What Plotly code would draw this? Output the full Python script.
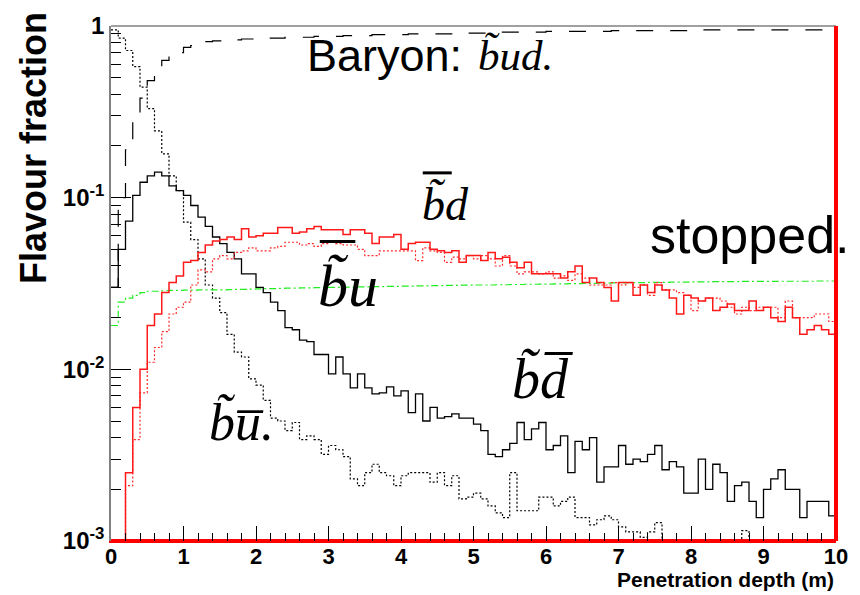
import numpy as np
import plotly.graph_objects as go

# ---------------------------------------------------------------------------
# Flavour fractions of R-hadrons vs penetration depth, 100 bins over 0-10 m
# ---------------------------------------------------------------------------
n_bins = 100
depth_edges = np.linspace(0.0, 10.0, n_bins + 1)

# baryon  (b~ u d)
frac_baryon = [
    0.03, 0.10, 0.19, 0.295, 0.38, 0.48, 0.575, 0.63, 0.67, 0.70,
    0.75, 0.77, 0.79, 0.81, 0.82, 0.82, 0.83, 0.83, 0.84, 0.84,
    0.84, 0.85, 0.85, 0.85, 0.86, 0.86, 0.86, 0.86, 0.87, 0.87,
    0.87, 0.87, 0.88, 0.88, 0.88, 0.88, 0.89, 0.89, 0.89, 0.89,
    0.89, 0.90, 0.90, 0.90, 0.90, 0.90, 0.90, 0.91, 0.91, 0.91,
    0.91, 0.91, 0.91, 0.92, 0.92, 0.92, 0.92, 0.92, 0.92, 0.92,
    0.93, 0.93, 0.93, 0.93, 0.93, 0.93, 0.93, 0.93, 0.93, 0.94,
    0.94, 0.94, 0.94, 0.94, 0.94, 0.94, 0.94, 0.94, 0.94, 0.94,
    0.95, 0.95, 0.95, 0.95, 0.95, 0.95, 0.95, 0.95, 0.95, 0.95,
    0.95, 0.95, 0.95, 0.95, 0.95, 0.95, 0.95, 0.95, 0.95, 0.95,
]

# meson  b~ u-bar  (dotted black)
frac_b_ubar = [
    0.95, 0.85, 0.72, 0.58, 0.44, 0.33, 0.245, 0.18, 0.134, 0.11,
    0.072, 0.057, 0.044, 0.031, 0.026, 0.0214, 0.016, 0.0126, 0.0118, 0.0088,
    0.0081, 0.0066, 0.0052, 0.0050, 0.0044, 0.0049, 0.0039, 0.0041, 0.0039, 0.0032,
    0.0036, 0.0034, 0.0031, 0.0023, 0.0021, 0.0025, 0.0028, 0.0025, 0.0024, 0.0021,
    0.0024, 0.0025, 0.0025, 0.0025, 0.0022, 0.0025, 0.0021, 0.0024, 0.00176, 0.0018,
    0.0019, 0.00176, 0.0016, 0.00146, 0.00137, 0.0025, 0.0015, 0.0015, 0.0015, 0.0018,
    0.0018, 0.0016, 0.0017, 0.0018, 0.00137, 0.00137, 0.00124, 0.00133, 0.0014, 0.00133,
    0.00121, 0.00113, 0.00113, 0.00105, 0.00113, 0.00128, 0.0, 0.00102, 0.0010, 0.0,
    0.0, 0.0, 0.0, 0.0, 0.0, 0.0, 0.0, 0.00115, 0.0, 0.0,
    0.0, 0.0, 0.0, 0.0, 0.0, 0.0, 0.0, 0.00102, 0.0, 0.0,
]

# meson  b~ d-bar  (solid black)
frac_b_dbar = [
    0.030, 0.050, 0.073, 0.103, 0.123, 0.134, 0.141, 0.134, 0.117, 0.110,
    0.103, 0.090, 0.077, 0.068, 0.059, 0.054, 0.048, 0.044, 0.036, 0.036,
    0.030, 0.028, 0.0246, 0.022, 0.0175, 0.017, 0.0148, 0.0145, 0.0122, 0.0122,
    0.0094, 0.0118, 0.0094, 0.0078, 0.0094, 0.0078, 0.0072, 0.0073, 0.0079, 0.0070,
    0.0075, 0.0056, 0.0072, 0.0050, 0.0060, 0.0052, 0.0053, 0.0055, 0.0052, 0.0052,
    0.0048, 0.0044, 0.0032, 0.0031, 0.0034, 0.0037, 0.0049, 0.0039, 0.0045, 0.0049,
    0.0034, 0.0036, 0.0041, 0.0025, 0.0038, 0.0034, 0.0040, 0.0022, 0.0027, 0.0027,
    0.0036, 0.0028, 0.0030, 0.0029, 0.0032, 0.0036, 0.0026, 0.0029, 0.0027, 0.0019,
    0.0019, 0.0030, 0.0020, 0.0028, 0.0025, 0.0017, 0.0021, 0.0022, 0.0017, 0.00137,
    0.0020, 0.0023, 0.0026, 0.0020, 0.0020, 0.00137, 0.0017, 0.0017, 0.0017, 0.0014,
]

# anti-sbottom  b~-bar d  (solid red)
frac_bbar_d = [
    0.0, 0.0, 0.0025, 0.0060, 0.010, 0.018, 0.021, 0.028, 0.032, 0.035,
    0.042, 0.043, 0.048, 0.053, 0.056, 0.057, 0.059, 0.057, 0.066, 0.059,
    0.060, 0.062, 0.062, 0.067, 0.067, 0.062, 0.063, 0.066, 0.068, 0.065,
    0.065, 0.065, 0.061, 0.065, 0.065, 0.062, 0.054, 0.059, 0.059, 0.061,
    0.050, 0.054, 0.055, 0.055, 0.050, 0.049, 0.048, 0.049, 0.042, 0.046,
    0.046, 0.043, 0.048, 0.044, 0.045, 0.042, 0.039, 0.042, 0.036, 0.036,
    0.036, 0.036, 0.034, 0.037, 0.040, 0.032, 0.034, 0.032, 0.030, 0.025,
    0.032, 0.032, 0.027, 0.031, 0.028, 0.031, 0.029, 0.026, 0.021, 0.027,
    0.026, 0.025, 0.026, 0.022, 0.023, 0.024, 0.022, 0.022, 0.025, 0.022,
    0.023, 0.020, 0.019, 0.023, 0.020, 0.016, 0.017, 0.018, 0.017, 0.016,
]

# anti-sbottom  b~-bar u  (dotted red)
frac_bbar_u = [
    0.0, 0.0, 0.0021, 0.0039, 0.0073, 0.011, 0.0134, 0.0166, 0.021, 0.023,
    0.0246, 0.031, 0.038, 0.037, 0.044, 0.046, 0.044, 0.048, 0.049, 0.051,
    0.049, 0.049, 0.051, 0.052, 0.055, 0.055, 0.053, 0.054, 0.052, 0.054,
    0.055, 0.054, 0.053, 0.053, 0.050, 0.046, 0.046, 0.049, 0.049, 0.049,
    0.049, 0.049, 0.043, 0.051, 0.049, 0.048, 0.042, 0.045, 0.044, 0.046,
    0.044, 0.046, 0.044, 0.040, 0.046, 0.040, 0.036, 0.037, 0.037, 0.036,
    0.037, 0.034, 0.035, 0.033, 0.036, 0.034, 0.031, 0.031, 0.031, 0.032,
    0.031, 0.032, 0.030, 0.031, 0.027, 0.032, 0.029, 0.029, 0.028, 0.027,
    0.022, 0.025, 0.026, 0.026, 0.025, 0.023, 0.021, 0.023, 0.022, 0.023,
    0.023, 0.023, 0.020, 0.025, 0.020, 0.020, 0.020, 0.021, 0.021, 0.019,
]

# remaining states  (green dash-dot)
frac_other = [
    0.018, 0.0246, 0.026, 0.027, 0.028, 0.0285, 0.0285, 0.0287, 0.0288, 0.0288,
    0.0289, 0.0289, 0.029, 0.029, 0.029, 0.029, 0.0291, 0.0292, 0.0292, 0.0293,
    0.0294, 0.0295, 0.0295, 0.0296, 0.0297, 0.0297, 0.0298, 0.0298, 0.0299, 0.030,
    0.030, 0.030, 0.0301, 0.0301, 0.0302, 0.0302, 0.0303, 0.0303, 0.0304, 0.0304,
    0.0305, 0.0305, 0.0306, 0.0306, 0.0307, 0.0307, 0.0308, 0.0308, 0.0309, 0.0309,
    0.031, 0.031, 0.031, 0.0311, 0.0311, 0.0312, 0.0312, 0.0313, 0.0313, 0.0314,
    0.0314, 0.0315, 0.0315, 0.0316, 0.0316, 0.0317, 0.0317, 0.0318, 0.0318, 0.0319,
    0.0319, 0.032, 0.032, 0.032, 0.0321, 0.0321, 0.0321, 0.0322, 0.0322, 0.0322,
    0.0323, 0.0323, 0.0323, 0.0324, 0.0324, 0.0324, 0.0324, 0.0325, 0.0325, 0.0325,
    0.0325, 0.0325, 0.0326, 0.0326, 0.0326, 0.0326, 0.0326, 0.0327, 0.0327, 0.0327,
]

# stopped fraction: nothing stops inside the 10 m, everything at the end
stopped_depth = [0.0, 10.0, 10.0]
stopped_frac = [0.0, 0.0, 1.0]

y_ticks = [1e-3, 1e-2, 1e-1, 1.0]
y_tick_text = ["10<sup>-3</sup>", "10<sup>-2</sup>", "10<sup>-1</sup>", "1"]
x_ticks = [0, 1, 2, 3, 4, 5, 6, 7, 8, 9, 10]

Y_MIN, Y_MAX = 1e-3, 1.0
FLOOR = 1e-4  # empty bins are drawn below the frame


def step_xy(values):
    """ROOT-style histogram outline: horizontal per bin, vertical at edges."""
    v = [val if val > 0 else FLOOR for val in values]
    x = list(depth_edges[:-1]) + [depth_edges[-1]]
    y = v + [v[-1]]
    return x, y


series = [
    (frac_baryon, dict(color="black", width=1.2, dash="17px,17px")),
    (frac_b_ubar, dict(color="black", width=1.2, dash="2px,2px")),
    (frac_b_dbar, dict(color="black", width=1.3)),
    (frac_other, dict(color="#22ee22", width=1.2, dash="7px,3px,2px,3px")),
    (frac_bbar_u, dict(color="#ff2a2a", width=1.2, dash="2px,2px")),
    (frac_bbar_d, dict(color="#ff1a1a", width=1.5)),
]

fig = go.Figure()
for vals, line in series:
    xs, ys = step_xy(vals)
    fig.add_trace(go.Scatter(x=xs, y=ys, mode="lines", line_shape="hv",
                             line=line, hoverinfo="skip", showlegend=False))

fig.add_trace(go.Scatter(
    x=stopped_depth, y=[v if v > 0 else Y_MIN for v in stopped_frac],
    mode="lines", line=dict(color="#ff0000", width=4),
    hoverinfo="skip", showlegend=False))

SANS = "Liberation Sans, Arial, Helvetica, sans-serif"
SERIF = "Liberation Serif, Times New Roman, serif"

fig.update_layout(
    width=860, height=595,
    margin=dict(l=111, r=24, t=15, b=54, pad=0),
    paper_bgcolor="white", plot_bgcolor="white",
    showlegend=False,
    xaxis=dict(
        range=[0, 10], tickvals=x_ticks, ticks="inside", ticklen=15,
        tickwidth=1, tickcolor="black", showgrid=False, zeroline=False,
        showline=True, linecolor="#ff0000", linewidth=2,
        ticklabelstandoff=-5,
        tickfont=dict(family=SANS, size=22, color="black", weight="bold"),
        minor=dict(dtick=0.2, ticks="inside", ticklen=8, tickwidth=1,
                   tickcolor="black", showgrid=False),
    ),
    yaxis=dict(
        type="log", range=[np.log10(Y_MIN), np.log10(Y_MAX)],
        tickvals=y_ticks, ticktext=y_tick_text, ticks="inside", ticklen=20,
        tickwidth=1, tickcolor="black", showgrid=False, zeroline=False,
        showline=True, linecolor="#808080", linewidth=1.5,
        tickfont=dict(family=SANS, size=24, color="black", weight="bold"),
        minor=dict(
            tickvals=[m * 10.0 ** e for e in (-3, -2, -1) for m in range(2, 10)],
            ticks="inside", ticklen=10, tickwidth=1, tickcolor="black",
            showgrid=False),
    ),
    shapes=[
        # frame: top edge and the right edge where the stopped fraction sits
        dict(type="line", xref="paper", yref="paper", x0=0, x1=1, y0=1, y1=1,
             line=dict(color="#808080", width=1.5)),
        dict(type="line", xref="paper", yref="paper", x0=1, x1=1, y0=0, y1=1,
             line=dict(color="#ff0000", width=4)),
        # overbars of the anti-squark labels
        dict(type="line", xref="paper", yref="paper", x0=0.288, x1=0.337,
             y0=0.5817, y1=0.5817, line=dict(color="black", width=3)),
        dict(type="line", xref="paper", yref="paper", x0=0.430, x1=0.470,
             y0=0.7148, y1=0.7148, line=dict(color="black", width=3)),
    ],
)

annotations = [
    # axis titles
    dict(text="Flavour fraction", xref="paper", yref="paper", x=-0.107, y=1.032,
         xanchor="center", yanchor="top", textangle=-90, showarrow=False,
         font=dict(family=SANS, size=36, color="black", weight="bold")),
    dict(text="Penetration depth (m)", xref="paper", yref="paper", x=1.0, y=-0.1,
         xanchor="right", yanchor="bottom", showarrow=False,
         font=dict(family=SANS, size=21, color="black", weight="bold")),
    # curve labels
    dict(text="Baryon:", x=2.67, y=-0.174, xanchor="left", yanchor="middle",
         showarrow=False, font=dict(family=SANS, size=45, color="black")),
    dict(text="<i>b\u0303ud.</i>", x=5.03, y=-0.174, xanchor="left", yanchor="middle",
         showarrow=False, font=dict(family=SERIF, size=43, color="black")),
    dict(text="<i>b\u0303d</i>", x=4.26, y=-1.038, xanchor="left", yanchor="middle",
         showarrow=False, font=dict(family=SERIF, size=46, color="black")),
    dict(text="<i>b\u0303u</i>", x=2.83, y=-1.517, xanchor="left", yanchor="middle",
         showarrow=False, font=dict(family=SERIF, size=60, color="black")),
    dict(text="<i>b\u0303d\u0305</i>", x=5.50, y=-2.059, xanchor="left", yanchor="middle",
         showarrow=False, font=dict(family=SERIF, size=56, color="black")),
    dict(text="<i>b\u0303u\u0305.</i>", x=1.32, y=-2.310, xanchor="left", yanchor="middle",
         showarrow=False, font=dict(family=SERIF, size=52, color="black")),
    dict(text="stopped.", x=7.41, y=-1.215, xanchor="left", yanchor="middle",
         showarrow=False, font=dict(family=SANS, size=52, color="black")),
]
fig.update_layout(annotations=annotations)

fig.write_html("out.html")
